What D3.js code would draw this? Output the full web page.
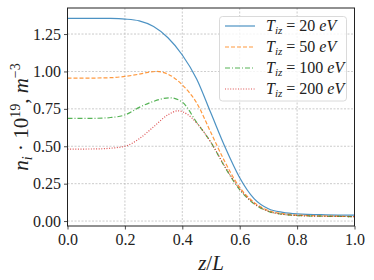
<!DOCTYPE html>
<html>
<head>
<meta charset="utf-8">
<script src="https://cdn.jsdelivr.net/npm/d3@7"></script>
<style>
  body { margin: 0; background: #fff; }
  text { font-family: "Liberation Serif", "DejaVu Serif", serif; }
</style>
</head>
<body>
<svg id="chart" width="374" height="280"></svg>
<script>
// z/L sample points and densities (10^19 m^-3)
const z20 = [0, 0.1, 0.15, 0.2, 0.25, 0.3, 0.35, 0.4, 0.45, 0.5, 0.55, 0.6, 0.65, 0.7, 0.75, 0.8, 0.9, 1.0];
const n20 = [1.355, 1.355, 1.354, 1.35, 1.338, 1.30, 1.225, 1.11, 0.95, 0.72, 0.49, 0.29, 0.15, 0.082, 0.058, 0.048, 0.042, 0.04];

const z50 = [0, 0.1, 0.15, 0.2, 0.25, 0.28, 0.31, 0.35, 0.4, 0.45, 0.5, 0.55, 0.6, 0.65, 0.7, 0.75, 0.8, 0.9, 1.0];
const n50 = [0.955, 0.956, 0.958, 0.967, 0.982, 0.994, 1.0, 0.982, 0.91, 0.79, 0.59, 0.39, 0.225, 0.125, 0.07, 0.05, 0.04, 0.034, 0.03];

const z100 = [0, 0.1, 0.15, 0.2, 0.25, 0.3, 0.357, 0.4, 0.45, 0.5, 0.55, 0.6, 0.65, 0.7, 0.75, 0.8, 0.9, 1.0];
const n100 = [0.686, 0.687, 0.692, 0.709, 0.76, 0.80, 0.824, 0.795, 0.66, 0.525, 0.355, 0.21, 0.115, 0.065, 0.045, 0.037, 0.032, 0.03];

const z200 = [0, 0.1, 0.15, 0.2, 0.25, 0.3, 0.35, 0.386, 0.42, 0.45, 0.5, 0.55, 0.6, 0.65, 0.7, 0.75, 0.8, 0.9, 1.0];
const n200 = [0.481, 0.482, 0.487, 0.50, 0.55, 0.63, 0.71, 0.737, 0.71, 0.655, 0.525, 0.36, 0.215, 0.118, 0.065, 0.045, 0.037, 0.032, 0.03];

const temps = ['20', '50', '100', '200'];
const xTicks = [0, 0.2, 0.4, 0.6, 0.8, 1.0];
const yTicks = [0, 0.25, 0.5, 0.75, 1.0, 1.25];

const series = [
  { t: temps[0], z: z20, n: n20, color: '#1f77b4', dash: null },
  { t: temps[1], z: z50, n: n50, color: '#ff7f0e', dash: '4,2' },
  { t: temps[2], z: z100, n: n100, color: '#2ca02c', dash: '5,2,1,2' },
  { t: temps[3], z: z200, n: n200, color: '#d62728', dash: '1,1.6' }
];

const svg = d3.select('#chart');
const m = { left: 67.5, right: 354.5, top: 8, bottom: 226 };

const x = d3.scaleLinear().domain([0, 1]).range([m.left, m.right]);
const y = d3.scaleLinear().domain([-0.033, 1.424]).range([m.bottom, m.top]);

// grid
const grid = svg.append('g');
grid.selectAll('.gx').data(xTicks).enter().append('line')
  .attr('x1', d => x(d)).attr('x2', d => x(d))
  .attr('y1', m.top).attr('y2', m.bottom)
  .attr('stroke', '#b0b0b0').attr('stroke-width', 0.8)
  .attr('stroke-dasharray', '2,1.5').attr('opacity', 0.8);
grid.selectAll('.gy').data(yTicks).enter().append('line')
  .attr('x1', m.left).attr('x2', m.right)
  .attr('y1', d => y(d)).attr('y2', d => y(d))
  .attr('stroke', '#b0b0b0').attr('stroke-width', 0.8)
  .attr('stroke-dasharray', '2,1.5').attr('opacity', 0.8);

// lines
const line = d3.line()
  .x(d => x(d[0]))
  .y(d => y(d[1]))
  .curve(d3.curveMonotoneX);

series.forEach(s => {
  const pts = s.z.map((v, i) => [v, s.n[i]]);
  svg.append('path')
    .attr('d', line(pts))
    .attr('fill', 'none')
    .attr('stroke', s.color)
    .attr('stroke-opacity', 0.8)
    .attr('stroke-width', 1.2)
    .attr('stroke-dasharray', s.dash);
});

// axes
const xAxis = d3.axisBottom(x).tickValues(xTicks).tickFormat(d3.format('.1f')).tickSizeOuter(0).tickSize(3.5).tickPadding(4);
const yAxis = d3.axisLeft(y).tickValues(yTicks).tickFormat(d3.format('.2f')).tickSizeOuter(0).tickSize(3.5).tickPadding(3);

const gx = svg.append('g').attr('transform', `translate(0,${m.bottom})`).call(xAxis);
const gy = svg.append('g').attr('transform', `translate(${m.left},0)`).call(yAxis);
[gx, gy].forEach(g => {
  g.select('.domain').remove();
  g.selectAll('line').attr('stroke', '#222').attr('stroke-width', 0.8);
  g.selectAll('text').attr('fill', '#222').style('font-size', '16px')
    .style('font-family', '"Liberation Serif", serif');
});

// frame
svg.append('rect')
  .attr('x', m.left).attr('y', m.top)
  .attr('width', m.right - m.left).attr('height', m.bottom - m.top)
  .attr('fill', 'none').attr('stroke', '#222').attr('stroke-width', 1);

// x label
const xl = svg.append('text')
  .attr('x', (m.left + m.right) / 2).attr('y', 270)
  .attr('text-anchor', 'middle')
  .style('font-size', '21px').attr('fill', '#222');
xl.append('tspan').style('font-style', 'italic').text('z');
xl.append('tspan').text('/');
xl.append('tspan').style('font-style', 'italic').text('L');

// y label
const yl = svg.append('text')
  .attr('transform', 'translate(28,117) rotate(-90)')
  .attr('text-anchor', 'middle')
  .style('font-size', '21px').attr('fill', '#222');
yl.append('tspan').style('font-style', 'italic').text('n');
yl.append('tspan').style('font-style', 'italic').style('font-size', '14px').attr('dy', 4).text('i');
yl.append('tspan').attr('dy', -4).text(' · 10');
yl.append('tspan').style('font-size', '14px').attr('dy', -8).text('19');
yl.append('tspan').attr('dy', 8).text(', ');
yl.append('tspan').style('font-style', 'italic').text('m');
yl.append('tspan').style('font-size', '14px').attr('dy', -8).text('−3');

// legend
const leg = svg.append('g');
leg.append('rect')
  .attr('x', 219.5).attr('y', 16.5).attr('width', 127).attr('height', 84.5)
  .attr('rx', 3).attr('fill', '#fff').attr('fill-opacity', 0.8)
  .attr('stroke', '#d0d0d0').attr('stroke-width', 0.8);

series.forEach((s, i) => {
  const ry = 26 + i * 21;
  leg.append('line')
    .attr('x1', 225).attr('x2', 255).attr('y1', ry).attr('y2', ry)
    .attr('stroke', s.color).attr('stroke-opacity', 0.8)
    .attr('stroke-width', 1.2).attr('stroke-dasharray', s.dash);
  const t = leg.append('text')
    .attr('x', 266).attr('y', ry + 5)
    .style('font-size', '16px').attr('fill', '#222');
  t.append('tspan').style('font-style', 'italic').text('T');
  t.append('tspan').style('font-style', 'italic').style('font-size', '11px').attr('dy', 3).text('iz');
  t.append('tspan').attr('dy', -3).text(' = ' + s.t + ' ');
  t.append('tspan').style('font-style', 'italic').text('eV');
});
</script>
</body>
</html>
